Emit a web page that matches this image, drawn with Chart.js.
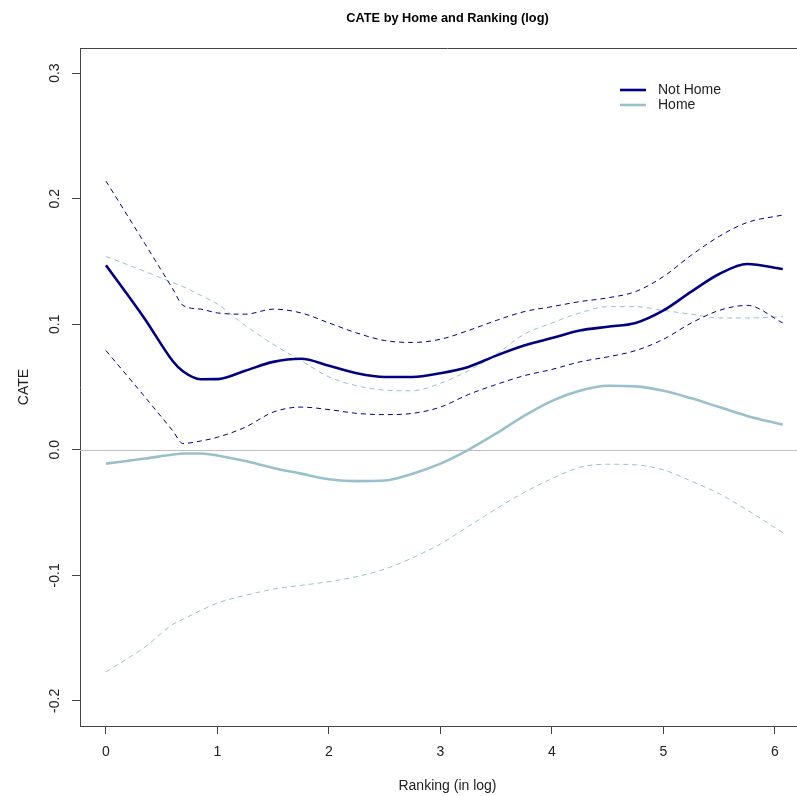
<!DOCTYPE html>
<html>
<head>
<meta charset="utf-8">
<script src="https://cdn.jsdelivr.net/npm/chart.js@4.4.0/dist/chart.umd.min.js"></script>
<style>
  html, body { margin: 0; padding: 0; background: #fff; overflow: hidden; }
</style>
</head>
<body>
<!-- the plot region runs past the right edge of the window, as in the original -->
<canvas id="graph" width="815" height="796"></canvas>
<script>
// ranking (in log) sample points
const xs = [0, 0.35, 0.6, 0.69, 0.85, 1.0, 1.25, 1.5, 1.75, 2.0, 2.25, 2.5, 2.75, 3.0, 3.25, 3.5, 3.75, 4.0, 4.25, 4.5, 4.75, 5.0, 5.25, 5.5, 5.75, 6.07];

const notHome      = [0.147, 0.104, 0.0705, 0.0625, 0.0562, 0.0563, 0.063, 0.070, 0.0725, 0.067, 0.061, 0.058, 0.058, 0.061, 0.066, 0.075, 0.083, 0.089, 0.095, 0.098, 0.101, 0.111, 0.126, 0.140, 0.148, 0.144];
const notHomeUpper = [0.214, 0.164, 0.128, 0.115, 0.112, 0.109, 0.108, 0.112, 0.109, 0.101, 0.093, 0.087, 0.0855, 0.088, 0.095, 0.103, 0.110, 0.114, 0.118, 0.121, 0.126, 0.138, 0.155, 0.170, 0.181, 0.187];
const notHomeLower = [0.079, 0.042, 0.015, 0.005, 0.007, 0.010, 0.018, 0.030, 0.034, 0.032, 0.029, 0.028, 0.029, 0.034, 0.044, 0.052, 0.059, 0.064, 0.070, 0.074, 0.079, 0.088, 0.101, 0.111, 0.115, 0.101];

const home      = [-0.011, -0.007, -0.0038, -0.003, -0.003, -0.0045, -0.009, -0.0145, -0.019, -0.0235, -0.025, -0.0245, -0.019, -0.011, 0.000, 0.013, 0.027, 0.039, 0.047, 0.051, 0.0505, 0.047, 0.041, 0.034, 0.027, 0.020];
const homeUpper = [0.154, 0.142, 0.133, 0.130, 0.123, 0.116, 0.099, 0.084, 0.071, 0.058, 0.051, 0.0475, 0.047, 0.053, 0.063, 0.076, 0.092, 0.101, 0.109, 0.114, 0.114, 0.111, 0.108, 0.105, 0.105, 0.106];
const homeLower = [-0.177, -0.157, -0.139, -0.135, -0.128, -0.122, -0.116, -0.111, -0.108, -0.105, -0.101, -0.095, -0.086, -0.075, -0.061, -0.047, -0.034, -0.023, -0.014, -0.0115, -0.012, -0.016, -0.025, -0.035, -0.048, -0.066];

const xTicks = [0, 1, 2, 3, 4, 5, 6];
const yTicks = [-0.2, -0.1, 0.0, 0.1, 0.2, 0.3];

const NAVY = '#000080';
const LIGHT = '#9ac0cd';
const FONT = "'Liberation Sans', Arial, sans-serif";

function pts(vals) {
    return xs.map((x, i) => ({ x: x, y: vals[i] }));
}

function line(label, vals, color, dashed) {
    return {
        label: label,
        data: pts(vals),
        borderColor: color,
        borderWidth: dashed ? 1 : 2.6,
        borderDash: dashed ? [5, 4] : [],
        pointRadius: 0,
        fill: false,
        cubicInterpolationMode: 'monotone'
    };
}

// zero reference line, box top edge and legend
const extras = {
    id: 'extras',
    beforeDatasetsDraw(chart) {
        const { ctx, chartArea, scales } = chart;
        const y0 = Math.round(scales.y.getPixelForValue(0)) + 0.5;
        ctx.save();
        ctx.strokeStyle = '#bebebe';
        ctx.lineWidth = 1;
        ctx.beginPath();
        ctx.moveTo(chartArea.left, y0);
        ctx.lineTo(chartArea.right, y0);
        ctx.stroke();
        ctx.restore();
    },
    afterDraw(chart) {
        const { ctx, chartArea } = chart;
        ctx.save();
        ctx.strokeStyle = '#444';
        ctx.lineWidth = 1;
        ctx.beginPath();
        ctx.moveTo(chartArea.left, chartArea.top + 0.5);
        ctx.lineTo(chartArea.right, chartArea.top + 0.5);
        ctx.stroke();

        const items = [chart.data.datasets[0], chart.data.datasets[3]];
        const lx = chartArea.right - 195;
        let ly = chartArea.top + 42;
        ctx.font = '14px ' + FONT;
        ctx.textBaseline = 'middle';
        ctx.textAlign = 'left';
        items.forEach(ds => {
            ctx.strokeStyle = ds.borderColor;
            ctx.lineWidth = ds.borderWidth;
            ctx.beginPath();
            ctx.moveTo(lx, ly);
            ctx.lineTo(lx + 26, ly);
            ctx.stroke();
            ctx.fillStyle = '#222';
            ctx.fillText(ds.label, lx + 38, ly);
            ly += 15;
        });
        ctx.restore();
    }
};

new Chart('graph', {
    type: 'line',
    data: {
        datasets: [
            line('Not Home', notHome, NAVY, false),
            line('Not Home upper', notHomeUpper, NAVY, true),
            line('Not Home lower', notHomeLower, NAVY, true),
            line('Home', home, LIGHT, false),
            line('Home upper', homeUpper, LIGHT, true),
            line('Home lower', homeLower, LIGHT, true)
        ]
    },
    options: {
        responsive: false,
        animation: false,
        devicePixelRatio: 1,
        layout: { padding: { top: 0, left: 0, right: 0, bottom: 0 } },
        plugins: {
            legend: { display: false },
            tooltip: { enabled: false },
            title: {
                display: true,
                text: 'CATE by Home and Ranking (log)',
                fullSize: false,
                color: '#000',
                font: { family: FONT, size: 12.75, weight: 'bold' },
                padding: { top: 11, bottom: 21.7 }
            }
        },
        scales: {
            x: {
                type: 'linear',
                min: -0.233,
                max: 6.359,
                afterBuildTicks: s => { s.ticks = xTicks.map(v => ({ value: v })); },
                afterFit: s => { s.height = 70; },
                grid: { drawOnChartArea: false, drawTicks: true, tickLength: 8, tickColor: '#444', lineWidth: 1 },
                border: { display: true, color: '#444', width: 1 },
                ticks: {
                    color: '#222',
                    padding: 9.6,
                    maxRotation: 0,
                    font: { family: FONT, size: 14 },
                    callback: v => String(v)
                },
                title: {
                    display: true,
                    text: 'Ranking (in log)',
                    color: '#222',
                    font: { family: FONT, size: 14 },
                    padding: { top: 0, bottom: 1.6 }
                }
            },
            y: {
                type: 'linear',
                min: -0.22,
                max: 0.32,
                afterBuildTicks: s => { s.ticks = yTicks.map(v => ({ value: v })); },
                afterFit: s => { s.width = 80; },
                grid: { drawOnChartArea: false, drawTicks: true, tickLength: 8, tickColor: '#444', lineWidth: 1 },
                border: { display: true, color: '#444', width: 1 },
                ticks: {
                    color: '#222',
                    padding: 5,
                    minRotation: 90,
                    maxRotation: 90,
                    crossAlign: 'center',
                    font: { family: FONT, size: 14 },
                    callback: v => v.toFixed(1)
                },
                title: {
                    display: true,
                    text: 'CATE',
                    color: '#222',
                    font: { family: FONT, size: 14 },
                    padding: { top: 15.5, bottom: 0 }
                }
            }
        }
    },
    plugins: [extras]
});
</script>
</body>
</html>
